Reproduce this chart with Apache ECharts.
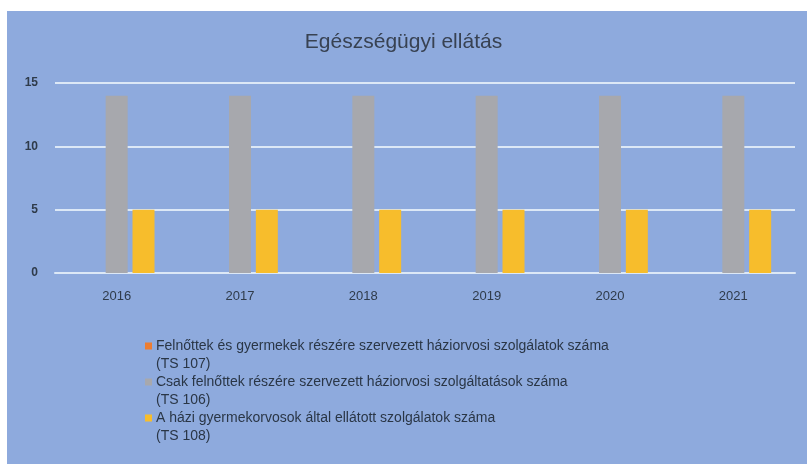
<!DOCTYPE html>
<html><head><meta charset="utf-8">
<script src="https://cdn.jsdelivr.net/npm/echarts@6/dist/echarts.min.js"></script>
<style>html,body{margin:0;padding:0;background:#fff}#c{width:807px;height:464px}</style>
</head><body><div id="c"></div>
<script>
const title = 'Egészségügyi ellátás';
const years = ['2016','2017','2018','2019','2020','2021'];
const seriesNames = [
  'Felnőttek és gyermekek részére szervezett háziorvosi szolgálatok száma\n(TS 107)',
  'Csak felnőttek részére szervezett háziorvosi szolgáltatások száma\n(TS 106)',
  'A házi gyermekorvosok által ellátott szolgálatok száma\n(TS 108)'
];
const ts107 = [0,0,0,0,0,0];
const ts106 = [14,14,14,14,14,14];
const ts108 = [5,5,5,5,5,5];
const colors = ['#ed7d31','#a7a8ad','#f7bd2c'];
const font = 'Liberation Sans';
const chart = echarts.init(document.getElementById('c'));
chart.setOption({
  backgroundColor: '#ffffff',
  animation: false,
  graphic: [{type:'rect', left:7, top:11, shape:{width:800, height:453}, style:{fill:'#8eaadd'}, z:-10}],
  title: {text: title, left: 'center', top: 27, textStyle:{fontFamily:font, fontSize:21, fontWeight:'normal', color:'#384252'}},
  grid: {left:55, right:12, top:83, bottom:191},
  xAxis: {type:'category', data: years,
    axisLine:{show:true, lineStyle:{color:'#dce8f6', width:2}}, axisTick:{show:false},
    axisLabel:{fontFamily:font, fontSize:13, color:'#2f3b4a', margin:17}},
  yAxis: {type:'value', min:0, max:15, interval:5,
    axisLine:{show:false}, axisTick:{show:false},
    splitLine:{lineStyle:{color:'#dce8f6', width:2}},
    axisLabel:{fontFamily:font, fontSize:12, fontWeight:'bold', color:'#2f3b4a', margin:17}},
  legend: {orient:'vertical', left:145, top:337, itemGap:0, itemWidth:7, itemHeight:36,
    icon:'path://M0,0h0.01v0.01h-0.01z M0,5.5h7v7h-7z M0,36h0.01v0.01h-0.01z',
    textStyle:{fontFamily:font, fontSize:14, color:'#2a3646', lineHeight:18, padding:[0,0,0,-1]}, padding:0},
  series: [
    {name: seriesNames[0], type:'bar', data: ts107, barWidth:22, barGap:'22%', itemStyle:{color:colors[0]}},
    {name: seriesNames[1], type:'bar', data: ts106, barWidth:22, barGap:'22%', itemStyle:{color:colors[1]}},
    {name: seriesNames[2], type:'bar', data: ts108, barWidth:22, barGap:'22%', itemStyle:{color:colors[2]}}
  ]
});
</script></body></html>
